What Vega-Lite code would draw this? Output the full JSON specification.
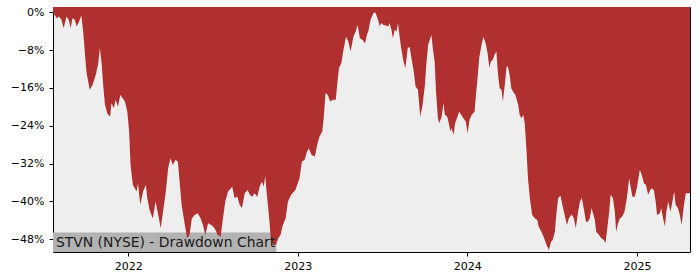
{
  "$schema": "https://vega.github.io/schema/vega-lite/v6.json",
  "width": 637,
  "height": 245,
  "autosize": {"type": "none"},
  "padding": {"left": 53, "top": 7, "right": 10, "bottom": 28},
  "background": "#ffffff",
  "view": {"fill": "#eeeeee", "stroke": "#000000", "strokeWidth": 1},
  "data": {"values": [
    {"date":"2021-07-23","dd":0},{"date":"2021-07-31","dd":-1.3},{"date":"2021-08-05","dd":-0.9},{"date":"2021-08-10","dd":-1.6},{"date":"2021-08-15","dd":-3.4},{"date":"2021-08-21","dd":-0.9},{"date":"2021-08-26","dd":-1.6},{"date":"2021-08-30","dd":-3.4},{"date":"2021-09-03","dd":-1.3},{"date":"2021-09-08","dd":-1.6},{"date":"2021-09-12","dd":-3.0},{"date":"2021-09-17","dd":-2.0},{"date":"2021-09-22","dd":-0.7},{"date":"2021-09-26","dd":-4.1},{"date":"2021-09-30","dd":-9.0},{"date":"2021-10-03","dd":-12.6},{"date":"2021-10-10","dd":-16.4},{"date":"2021-10-16","dd":-15.4},{"date":"2021-10-23","dd":-13.3},{"date":"2021-10-28","dd":-11.1},{"date":"2021-11-01","dd":-7.6},{"date":"2021-11-05","dd":-11.1},{"date":"2021-11-08","dd":-15.4},{"date":"2021-11-12","dd":-19.6},{"date":"2021-11-17","dd":-21.4},{"date":"2021-11-23","dd":-22.1},{"date":"2021-11-26","dd":-19.2},{"date":"2021-12-01","dd":-20.3},{"date":"2021-12-05","dd":-18.5},{"date":"2021-12-10","dd":-20.0},{"date":"2021-12-15","dd":-17.5},{"date":"2021-12-25","dd":-18.9},{"date":"2021-12-30","dd":-21.0},
    {"date":"2022-01-03","dd":-25.2},{"date":"2022-01-06","dd":-32.3},{"date":"2022-01-11","dd":-36.5},{"date":"2022-01-19","dd":-37.9},{"date":"2022-01-22","dd":-36.2},{"date":"2022-01-27","dd":-40.7},{"date":"2022-02-02","dd":-37.9},{"date":"2022-02-08","dd":-36.5},{"date":"2022-02-11","dd":-39.3},{"date":"2022-02-16","dd":-41.8},{"date":"2022-02-23","dd":-43.6},{"date":"2022-03-01","dd":-40.0},{"date":"2022-03-06","dd":-42.5},{"date":"2022-03-12","dd":-45.7},{"date":"2022-03-17","dd":-42.2},{"date":"2022-03-23","dd":-37.9},{"date":"2022-03-28","dd":-33.0},{"date":"2022-04-02","dd":-30.9},{"date":"2022-04-07","dd":-32.3},{"date":"2022-04-13","dd":-31.2},{"date":"2022-04-18","dd":-31.6},{"date":"2022-04-26","dd":-40.7},{"date":"2022-05-03","dd":-45.0},{"date":"2022-05-08","dd":-47.8},{"date":"2022-05-13","dd":-47.1},{"date":"2022-05-18","dd":-43.6},{"date":"2022-05-24","dd":-42.9},{"date":"2022-05-31","dd":-42.5},{"date":"2022-06-06","dd":-43.6},{"date":"2022-06-11","dd":-45.0},{"date":"2022-06-16","dd":-47.1},{"date":"2022-06-22","dd":-44.6},{"date":"2022-06-29","dd":-45.0},{"date":"2022-07-06","dd":-45.7},{"date":"2022-07-13","dd":-47.1},{"date":"2022-07-19","dd":-47.5},{"date":"2022-07-24","dd":-43.6},{"date":"2022-07-29","dd":-40.0},{"date":"2022-08-04","dd":-37.9},{"date":"2022-08-13","dd":-36.9},{"date":"2022-08-18","dd":-39.3},{"date":"2022-08-24","dd":-39.0},{"date":"2022-08-29","dd":-40.7},{"date":"2022-09-03","dd":-41.4},{"date":"2022-09-09","dd":-38.3},{"date":"2022-09-15","dd":-37.6},{"date":"2022-09-20","dd":-38.6},{"date":"2022-09-25","dd":-39.0},{"date":"2022-09-30","dd":-38.3},{"date":"2022-10-06","dd":-39.0},{"date":"2022-10-11","dd":-36.9},{"date":"2022-10-16","dd":-35.8},{"date":"2022-10-20","dd":-36.9},{"date":"2022-10-23","dd":-34.6},{"date":"2022-10-26","dd":-37.9},{"date":"2022-10-31","dd":-42.9},{"date":"2022-11-04","dd":-47.8},{"date":"2022-11-09","dd":-49.2},{"date":"2022-11-15","dd":-49.2},{"date":"2022-11-20","dd":-47.8},{"date":"2022-11-25","dd":-47.1},{"date":"2022-11-30","dd":-45.0},{"date":"2022-12-06","dd":-43.6},{"date":"2022-12-11","dd":-40.0},{"date":"2022-12-18","dd":-38.6},{"date":"2022-12-27","dd":-37.6},
    {"date":"2023-01-05","dd":-35.1},{"date":"2023-01-10","dd":-31.6},{"date":"2023-01-16","dd":-31.2},{"date":"2023-01-21","dd":-29.5},{"date":"2023-01-25","dd":-28.8},{"date":"2023-01-31","dd":-30.2},{"date":"2023-02-07","dd":-30.5},{"date":"2023-02-12","dd":-28.1},{"date":"2023-02-17","dd":-26.3},{"date":"2023-02-23","dd":-25.2},{"date":"2023-02-26","dd":-22.4},{"date":"2023-03-02","dd":-17.1},{"date":"2023-03-07","dd":-17.5},{"date":"2023-03-12","dd":-18.9},{"date":"2023-03-18","dd":-18.5},{"date":"2023-03-24","dd":-18.5},{"date":"2023-03-27","dd":-15.4},{"date":"2023-03-31","dd":-11.8},{"date":"2023-04-05","dd":-10.8},{"date":"2023-04-09","dd":-8.3},{"date":"2023-04-15","dd":-5.2},{"date":"2023-04-20","dd":-6.2},{"date":"2023-04-25","dd":-8.3},{"date":"2023-05-01","dd":-5.2},{"date":"2023-05-06","dd":-4.1},{"date":"2023-05-10","dd":-2.7},{"date":"2023-05-15","dd":-5.5},{"date":"2023-05-21","dd":-5.9},{"date":"2023-05-26","dd":-6.6},{"date":"2023-05-30","dd":-4.8},{"date":"2023-06-02","dd":-4.1},{"date":"2023-06-07","dd":-1.6},{"date":"2023-06-13","dd":-0.2},{"date":"2023-06-16","dd":0},{"date":"2023-06-18","dd":-0.2},{"date":"2023-06-23","dd":-1.6},{"date":"2023-06-27","dd":-3.0},{"date":"2023-06-30","dd":-2.3},{"date":"2023-07-05","dd":-2.7},{"date":"2023-07-10","dd":-2.8},{"date":"2023-07-15","dd":-3.0},{"date":"2023-07-18","dd":-2.3},{"date":"2023-07-22","dd":-3.7},{"date":"2023-07-25","dd":-5.5},{"date":"2023-07-29","dd":-3.7},{"date":"2023-08-02","dd":-4.1},{"date":"2023-08-05","dd":-2.3},{"date":"2023-08-09","dd":-5.5},{"date":"2023-08-12","dd":-7.6},{"date":"2023-08-17","dd":-10.4},{"date":"2023-08-21","dd":-11.8},{"date":"2023-08-26","dd":-7.6},{"date":"2023-08-30","dd":-7.3},{"date":"2023-09-03","dd":-9.7},{"date":"2023-09-08","dd":-12.6},{"date":"2023-09-12","dd":-15.7},{"date":"2023-09-17","dd":-16.4},{"date":"2023-09-22","dd":-22.1},{"date":"2023-09-27","dd":-19.6},{"date":"2023-10-02","dd":-15.4},{"date":"2023-10-05","dd":-11.1},{"date":"2023-10-09","dd":-6.9},{"date":"2023-10-16","dd":-4.8},{"date":"2023-10-19","dd":-7.6},{"date":"2023-10-23","dd":-10.4},{"date":"2023-10-26","dd":-16.8},{"date":"2023-10-30","dd":-22.4},{"date":"2023-11-02","dd":-23.5},{"date":"2023-11-07","dd":-22.1},{"date":"2023-11-11","dd":-19.2},{"date":"2023-11-14","dd":-21.7},{"date":"2023-11-19","dd":-22.1},{"date":"2023-11-21","dd":-22.8},{"date":"2023-11-26","dd":-25.2},{"date":"2023-11-28","dd":-24.5},{"date":"2023-12-03","dd":-25.9},{"date":"2023-12-06","dd":-23.5},{"date":"2023-12-10","dd":-22.4},{"date":"2023-12-15","dd":-21.0},{"date":"2023-12-19","dd":-21.7},{"date":"2023-12-24","dd":-22.4},{"date":"2023-12-29","dd":-23.1},
    {"date":"2024-01-02","dd":-25.6},{"date":"2024-01-06","dd":-22.8},{"date":"2024-01-11","dd":-21.7},{"date":"2024-01-17","dd":-21.0},{"date":"2024-01-20","dd":-17.5},{"date":"2024-01-24","dd":-13.3},{"date":"2024-01-27","dd":-9.7},{"date":"2024-02-01","dd":-6.9},{"date":"2024-02-05","dd":-5.2},{"date":"2024-02-10","dd":-6.6},{"date":"2024-02-14","dd":-8.7},{"date":"2024-02-18","dd":-11.8},{"date":"2024-02-21","dd":-10.4},{"date":"2024-02-25","dd":-10.1},{"date":"2024-02-29","dd":-9.0},{"date":"2024-03-04","dd":-8.3},{"date":"2024-03-07","dd":-12.6},{"date":"2024-03-11","dd":-16.1},{"date":"2024-03-15","dd":-16.4},{"date":"2024-03-18","dd":-18.9},{"date":"2024-03-22","dd":-15.4},{"date":"2024-03-26","dd":-11.5},{"date":"2024-03-29","dd":-11.5},{"date":"2024-04-02","dd":-13.6},{"date":"2024-04-05","dd":-16.1},{"date":"2024-04-09","dd":-16.8},{"date":"2024-04-14","dd":-17.5},{"date":"2024-04-20","dd":-19.6},{"date":"2024-04-23","dd":-21.7},{"date":"2024-04-27","dd":-22.4},{"date":"2024-05-01","dd":-21.7},{"date":"2024-05-04","dd":-23.5},{"date":"2024-05-08","dd":-29.5},{"date":"2024-05-11","dd":-35.1},{"date":"2024-05-15","dd":-39.3},{"date":"2024-05-20","dd":-42.9},{"date":"2024-05-26","dd":-43.6},{"date":"2024-05-31","dd":-43.9},{"date":"2024-06-03","dd":-45.3},{"date":"2024-06-09","dd":-46.4},{"date":"2024-06-15","dd":-47.8},{"date":"2024-06-20","dd":-49.2},{"date":"2024-06-25","dd":-50.3},{"date":"2024-06-30","dd":-48.5},{"date":"2024-07-03","dd":-48.2},{"date":"2024-07-08","dd":-46.4},{"date":"2024-07-11","dd":-42.9},{"date":"2024-07-15","dd":-39.3},{"date":"2024-07-20","dd":-38.8},{"date":"2024-07-24","dd":-40.7},{"date":"2024-07-29","dd":-42.9},{"date":"2024-08-03","dd":-45.0},{"date":"2024-08-07","dd":-43.6},{"date":"2024-08-13","dd":-42.7},{"date":"2024-08-18","dd":-43.6},{"date":"2024-08-22","dd":-45.7},{"date":"2024-08-27","dd":-42.2},{"date":"2024-08-31","dd":-40.0},{"date":"2024-09-04","dd":-39.3},{"date":"2024-09-08","dd":-41.4},{"date":"2024-09-13","dd":-44.3},{"date":"2024-09-17","dd":-44.3},{"date":"2024-09-21","dd":-43.6},{"date":"2024-09-25","dd":-41.4},{"date":"2024-09-28","dd":-42.5},{"date":"2024-10-02","dd":-43.9},{"date":"2024-10-05","dd":-46.4},{"date":"2024-10-11","dd":-47.1},{"date":"2024-10-16","dd":-47.8},{"date":"2024-10-21","dd":-48.1},{"date":"2024-10-25","dd":-48.8},{"date":"2024-10-28","dd":-46.4},{"date":"2024-11-02","dd":-42.2},{"date":"2024-11-05","dd":-38.6},{"date":"2024-11-10","dd":-39.3},{"date":"2024-11-14","dd":-42.2},{"date":"2024-11-17","dd":-46.4},{"date":"2024-11-21","dd":-44.6},{"date":"2024-11-25","dd":-43.6},{"date":"2024-11-30","dd":-43.2},{"date":"2024-12-05","dd":-42.2},{"date":"2024-12-10","dd":-39.3},{"date":"2024-12-15","dd":-35.1},{"date":"2024-12-18","dd":-36.9},{"date":"2024-12-22","dd":-39.0},{"date":"2024-12-27","dd":-39.0},
    {"date":"2025-01-01","dd":-36.9},{"date":"2025-01-07","dd":-33.3},{"date":"2025-01-11","dd":-34.4},{"date":"2025-01-16","dd":-36.2},{"date":"2025-01-20","dd":-36.5},{"date":"2025-01-25","dd":-38.6},{"date":"2025-01-28","dd":-37.9},{"date":"2025-02-01","dd":-37.2},{"date":"2025-02-06","dd":-37.6},{"date":"2025-02-10","dd":-40.0},{"date":"2025-02-13","dd":-42.9},{"date":"2025-02-19","dd":-42.5},{"date":"2025-02-22","dd":-41.4},{"date":"2025-02-26","dd":-43.6},{"date":"2025-03-02","dd":-45.3},{"date":"2025-03-05","dd":-42.2},{"date":"2025-03-09","dd":-40.0},{"date":"2025-03-14","dd":-42.2},{"date":"2025-03-18","dd":-40.0},{"date":"2025-03-22","dd":-37.9},{"date":"2025-03-25","dd":-40.7},{"date":"2025-03-30","dd":-41.4},{"date":"2025-04-03","dd":-42.9},{"date":"2025-04-07","dd":-45.0},{"date":"2025-04-12","dd":-40.7},{"date":"2025-04-16","dd":-38.3},{"date":"2025-04-21","dd":-38.3},{"date":"2025-04-25","dd":-38.3}
  ]},
  "layer": [
    {
      "data": {"values": [{}]},
      "mark": {"type": "rect", "color": "#b2b2b2"},
      "encoding": {
        "x": {"datum": {"year": 2021, "month": 7, "date": 23, "utc": true}, "type": "temporal"},
        "x2": {"datum": {"year": 2022, "month": 11, "date": 16, "utc": true}},
        "y": {"datum": -50.7, "type": "quantitative"},
        "y2": {"datum": -46.6}
      }
    },
    {
      "mark": {"type": "area", "color": "#b03030", "interpolate": "linear"},
      "encoding": {
        "x": {
          "field": "date", "type": "temporal",
          "scale": {"type": "utc", "domain": [{"year": 2021, "month": 7, "date": 23, "utc": true}, {"year": 2025, "month": 4, "date": 25, "utc": true}]},
          "axis": {
            "title": null, "grid": false, "domain": false, "format": "%Y",
            "values": [{"year": 2022, "month": 1, "date": 1, "utc": true}, {"year": 2023, "month": 1, "date": 1, "utc": true}, {"year": 2024, "month": 1, "date": 1, "utc": true}, {"year": 2025, "month": 1, "date": 1, "utc": true}],
            "labelFont": "DejaVu Sans", "labelFontSize": 11, "labelColor": "#000000",
            "tickColor": "#000000", "tickSize": 4, "labelPadding": 4, "labelFlush": false
          }
        },
        "y": {
          "field": "dd", "type": "quantitative",
          "scale": {"domain": [-50.7, 1.1], "nice": false, "zero": false},
          "axis": {
            "title": null, "grid": false, "domain": false,
            "values": [0, -8, -16, -24, -32, -40, -48],
            "labelExpr": "datum.value == 0 ? '0%' : '−' + abs(datum.value) + '%'",
            "labelFont": "DejaVu Sans", "labelFontSize": 11, "labelColor": "#000000",
            "tickColor": "#000000", "tickSize": 4, "labelPadding": 5
          }
        },
        "y2": {"datum": 1.1}
      }
    },
    {
      "data": {"values": [{}]},
      "mark": {"type": "text", "text": "STVN (NYSE) - Drawdown Chart", "align": "left", "baseline": "middle", "dx": 3, "font": "DejaVu Sans", "fontSize": 13.9, "color": "#1a1a1a"},
      "encoding": {
        "x": {"datum": {"year": 2021, "month": 7, "date": 23, "utc": true}, "type": "temporal"},
        "y": {"datum": -48.7, "type": "quantitative"}
      }
    }
  ]
}
